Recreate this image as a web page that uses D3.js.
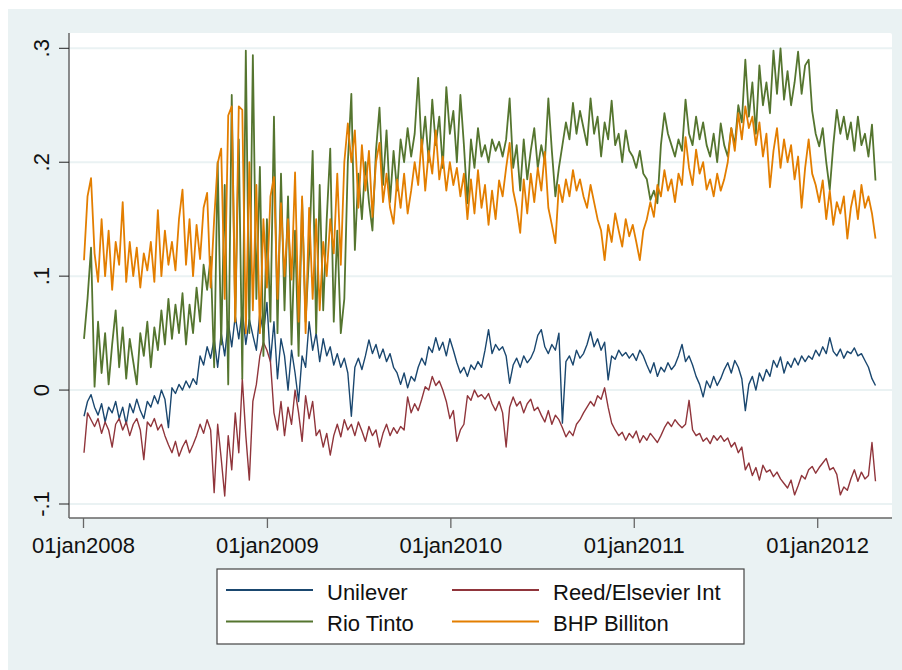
<!DOCTYPE html>
<html>
<head>
<meta charset="utf-8">
<script src="https://cdn.jsdelivr.net/npm/d3@7"></script>
<style>
  body { margin: 0; background: #fff; }
  text { font-family: "Liberation Sans", Arial, sans-serif; fill: #111; }
</style>
</head>
<body>
<svg class="chart" width="902" height="670"></svg>
<script>
// weekly readings, first one on 02jan2008
const startDate = "2008-01-02";
const stepDays = 7;

const seriesNames = ["Unilever", "Reed/Elsevier Int", "Rio Tinto", "BHP Billiton"];
const seriesColors = ["#1a476f", "#90353b", "#55752f", "#e37e00"];

const unilever = [
  -.023, -.010, -.004, -.015, -.022, -.012, -.028, -.015, -.020, -.010,
  -.025, -.015, -.030, -.012, -.020, -.008, -.018, -.025, -.010, -.015,
  -.005, -.012, .000, -.008, -.033, .002, -.003, .005, .000, .008,
  .002, .010, .005, .030, .022, .038, .028, .045, .020, .050,
  .030, .060, .038, .065, .045, .070, .040, .062, .048, .035,
  .068, .050, .077, .025, .060, .010, .045, .030, .000, .035,
  .015, -.010, .030, .020, .060, .035, .050, .025, .045, .030,
  .038, .022, .032, .020, .028, .015, -.023, .020, .028, .018,
  .030, .044, .032, .040, .028, .036, .025, .032, .020, .015,
  .005, .015, .002, .012, .008, .020, .028, .022, .038, .033,
  .046, .035, .042, .030, .045, .035, .024, .015, .020, .012,
  .022, .018, .025, .020, .035, .053, .032, .040, .035, .038,
  .030, .006, .022, .028, .020, .030, .024, .028, .035, .048,
  .053, .038, .032, .040, .035, .050, -.029, .025, .030, .022,
  .035, .028, .032, .040, .051, .038, .045, .035, .042, .009,
  .030, .027, .035, .030, .033, .028, .032, .026, .035, .030,
  .022, .015, .024, .012, .020, .016, .024, .018, .022, .030,
  .040, .025, .030, .022, .012, .005, -.006, .008, .002, .012,
  .004, .010, .018, .024, .015, .026, .020, .010, -.018, .005,
  .012, .000, .015, .008, .018, .012, .026, .020, .029, .015,
  .025, .020, .028, .022, .030, .025, .030, .027, .035, .030,
  .038, .032, .046, .034, .030, .036, .028, .034, .032, .037,
  .030, .032, .026, .020, .010, .004
];

const reed = [
  -.055, -.020, -.026, -.032, -.025, -.038, -.028, -.035, -.050, -.030,
  -.025, -.035, -.028, -.040, -.030, -.025, -.035, -.061, -.028, -.032,
  -.025, -.035, -.030, -.040, -.048, -.055, -.045, -.058, -.050, -.044,
  -.055, -.048, -.040, -.030, -.038, -.026, -.035, -.090, -.030, -.060,
  -.093, -.040, -.070, -.020, -.055, .010, -.040, -.079, -.010, .005,
  .030, .042, .035, .025, -.020, -.035, -.010, -.040, -.015, -.030,
  .000, -.020, -.045, -.005, -.025, -.010, -.040, -.035, -.050, -.038,
  -.057, -.040, -.030, -.041, -.026, -.035, -.030, -.040, -.028, -.036,
  -.045, -.032, -.040, -.035, -.050, -.038, -.030, -.040, -.033, -.038,
  -.032, -.035, -.006, -.020, -.012, -.018, -.008, .003, .000, .012,
  .004, .008, .000, -.010, -.025, -.018, -.045, -.035, -.030, -.005,
  -.009, .000, -.006, -.004, -.008, -.003, -.012, -.018, -.010, -.020,
  -.050, -.015, -.006, -.014, -.010, -.020, -.012, -.008, -.018, -.015,
  -.022, -.028, -.018, -.030, -.022, -.026, -.033, -.041, -.036, -.040,
  -.030, -.026, -.020, -.015, -.010, -.014, -.005, -.008, .002, -.015,
  -.029, -.035, -.040, -.037, -.044, -.038, -.042, -.036, -.046, -.040,
  -.044, -.038, -.042, -.046, -.040, -.033, -.028, -.032, -.026, -.030,
  -.033, -.030, -.009, -.035, -.040, -.038, -.045, -.042, -.047, -.040,
  -.044, -.040, -.045, -.042, -.050, -.046, -.055, -.050, -.070, -.064,
  -.075, -.068, -.079, -.066, -.072, -.070, -.076, -.072, -.078, -.082,
  -.086, -.079, -.092, -.084, -.075, -.078, -.070, -.067, -.073, -.068,
  -.064, -.060, -.070, -.068, -.074, -.092, -.085, -.088, -.078, -.070,
  -.080, -.072, -.078, -.075, -.046, -.080
];

const rioTinto = [
  .045, .080, .125, .003, .060, .015, .050, .005, .040, .070,
  .020, .055, .010, .045, .025, .005, .050, .030, .060, .020,
  .055, .035, .070, .040, .080, .045, .075, .050, .085, .040,
  .075, .050, .090, .060, .110, .088, .117, .020, .200, .040,
  .180, .005, .259, .060, .220, .010, .298, .050, .294, .080,
  .196, .030, .150, .060, .240, .050, .190, .070, .170, .040,
  .140, .030, .167, .060, .120, .210, .050, .180, .070, .150,
  .212, .060, .140, .050, .080, .200, .260, .123, .190, .150,
  .200, .165, .140, .210, .248, .180, .228, .165, .210, .175,
  .220, .200, .230, .205, .225, .274, .210, .240, .200, .255,
  .215, .240, .195, .266, .225, .245, .200, .259, .215, .164,
  .220, .195, .230, .205, .215, .200, .220, .210, .218, .205,
  .220, .256, .195, .215, .175, .220, .185, .210, .230, .195,
  .215, .200, .256, .210, .170, .195, .215, .235, .220, .252,
  .225, .245, .230, .215, .256, .225, .240, .205, .235, .220,
  .254, .215, .225, .200, .228, .210, .205, .195, .210, .190,
  .185, .167, .175, .164, .215, .243, .225, .215, .205, .220,
  .210, .255, .225, .215, .240, .220, .235, .215, .205, .225,
  .200, .234, .215, .205, .230, .215, .250, .235, .290, .240,
  .270, .225, .285, .250, .270, .243, .298, .260, .300, .255,
  .280, .250, .270, .297, .260, .285, .290, .245, .225, .214,
  .230, .200, .176, .215, .246, .225, .240, .220, .235, .210,
  .240, .215, .225, .205, .233, .184
];

const bhpBilliton = [
  .114, .170, .186, .120, .095, .150, .100, .140, .088, .130,
  .110, .165, .095, .130, .100, .125, .090, .120, .105, .130,
  .095, .158, .100, .140, .110, .130, .105, .150, .176, .110,
  .150, .100, .145, .115, .160, .173, .090, .150, .199, .212,
  .080, .241, .249, .060, .249, .246, .050, .200, .070, .180,
  .050, .150, .090, .170, .187, .080, .164, .100, .150, .097,
  .191, .060, .170, .050, .160, .080, .150, .070, .130, .100,
  .150, .120, .190, .110, .200, .234, .200, .228, .160, .215,
  .175, .210, .152, .200, .217, .165, .190, .160, .146, .185,
  .160, .190, .155, .175, .200, .180, .220, .175, .210, .190,
  .228, .185, .205, .175, .200, .180, .195, .170, .190, .150,
  .185, .155, .193, .160, .180, .145, .175, .150, .184, .170,
  .195, .217, .175, .160, .138, .185, .155, .190, .165, .195,
  .175, .209, .160, .145, .129, .180, .165, .185, .170, .193,
  .175, .185, .170, .160, .180, .165, .150, .140, .114, .145,
  .130, .155, .140, .126, .150, .135, .145, .130, .114, .140,
  .150, .165, .152, .180, .170, .193, .175, .185, .165, .190,
  .180, .222, .195, .180, .211, .190, .200, .176, .185, .170,
  .190, .175, .185, .200, .230, .210, .243, .220, .249, .230,
  .240, .215, .235, .205, .225, .178, .210, .230, .195, .220,
  .200, .215, .185, .205, .160, .195, .220, .190, .180, .165,
  .184, .150, .175, .145, .165, .155, .170, .133, .160, .175,
  .150, .180, .160, .170, .155, .133
];

const yTicks = [-0.1, 0, 0.1, 0.2, 0.3];
const yTickLabels = ["-.1", "0", ".1", ".2", ".3"];
const xTickYears = [2008, 2009, 2010, 2011, 2012];

const svg = d3.select(".chart");
const width = +svg.attr("width");
const height = +svg.attr("height");

// outer graph region
svg.append("rect")
    .attr("x", 8).attr("y", 9)
    .attr("width", width - 8).attr("height", height - 9)
    .attr("fill", "#eaf2f3");

const plot = { left: 69, right: 892, top: 33, bottom: 518 };

svg.append("rect")
    .attr("x", plot.left).attr("y", plot.top)
    .attr("width", plot.right - plot.left).attr("height", plot.bottom - plot.top)
    .attr("rx", 2)
    .attr("fill", "#ffffff");

// scales (extrapolate past the tick range)
const x = d3.scaleUtc()
    .domain([Date.UTC(2008, 0, 1), Date.UTC(2012, 0, 1)])
    .range([83.5, 817.7]);
const y = d3.scaleLinear()
    .domain([-0.1, 0.3])
    .range([504, 48.3]);

// gridlines
svg.append("g")
    .selectAll("line")
    .data(yTicks)
    .enter().append("line")
    .attr("x1", plot.left).attr("x2", plot.right)
    .attr("y1", d => y(d)).attr("y2", d => y(d))
    .attr("stroke", "#eaf2f3")
    .attr("stroke-width", 2);

// lines
const start = new Date(startDate + "T00:00:00Z");
const allSeries = [unilever, reed, rioTinto, bhpBilliton];
const line = d3.line()
    .x((d, i) => x(d3.utcDay.offset(start, i * stepDays)))
    .y(d => y(d));

allSeries.forEach((values, k) => {
    svg.append("path")
        .datum(values)
        .attr("d", line)
        .attr("fill", "none")
        .attr("stroke", seriesColors[k])
        .attr("stroke-width", k < 2 ? 1.4 : 1.8)
        .attr("stroke-linejoin", "round");
});

// y axis
svg.append("line")
    .attr("x1", plot.left).attr("x2", plot.left)
    .attr("y1", plot.top).attr("y2", plot.bottom)
    .attr("stroke", "#666").attr("stroke-width", 1.5);

const yAxis = svg.append("g");
yAxis.selectAll("line")
    .data(yTicks)
    .enter().append("line")
    .attr("x1", plot.left - 10).attr("x2", plot.left)
    .attr("y1", d => y(d)).attr("y2", d => y(d))
    .attr("stroke", "#222").attr("stroke-width", 1);
yAxis.selectAll("text")
    .data(yTicks)
    .enter().append("text")
    .attr("transform", d => `translate(49, ${y(d)}) rotate(-90)`)
    .attr("text-anchor", "middle")
    .style("font-size", "22px")
    .text((d, i) => yTickLabels[i]);

// x axis
svg.append("line")
    .attr("x1", plot.left).attr("x2", plot.right)
    .attr("y1", plot.bottom).attr("y2", plot.bottom)
    .attr("stroke", "#666").attr("stroke-width", 1.5);

const fmt = d3.utcFormat("%d%b%Y");
const xAxis = svg.append("g");
xAxis.selectAll("line")
    .data(xTickYears)
    .enter().append("line")
    .attr("x1", d => x(Date.UTC(d, 0, 1))).attr("x2", d => x(Date.UTC(d, 0, 1)))
    .attr("y1", plot.bottom).attr("y2", plot.bottom + 10)
    .attr("stroke", "#666").attr("stroke-width", 1.3);
xAxis.selectAll("text")
    .data(xTickYears)
    .enter().append("text")
    .attr("x", d => x(Date.UTC(d, 0, 1)))
    .attr("y", 553)
    .attr("text-anchor", "middle")
    .style("font-size", "22px")
    .text(d => fmt(new Date(Date.UTC(d, 0, 1))).toLowerCase());

// legend
const legend = svg.append("g");
legend.append("rect")
    .attr("x", 217).attr("y", 569)
    .attr("width", 527).attr("height", 75)
    .attr("fill", "#fff")
    .attr("stroke", "#444").attr("stroke-width", 1.2);

const legendCols = [226, 452];
const legendRows = [590, 621.5];
seriesNames.forEach((name, k) => {
    const lx = legendCols[k % 2];
    const ly = legendRows[Math.floor(k / 2)];
    legend.append("line")
        .attr("x1", lx).attr("x2", lx + 87)
        .attr("y1", ly).attr("y2", ly)
        .attr("stroke", seriesColors[k])
        .attr("stroke-width", 2);
    legend.append("text")
        .attr("x", lx + 101)
        .attr("y", ly + 9.5)
        .style("font-size", "22px")
        .text(name);
});
</script>
</body>
</html>
